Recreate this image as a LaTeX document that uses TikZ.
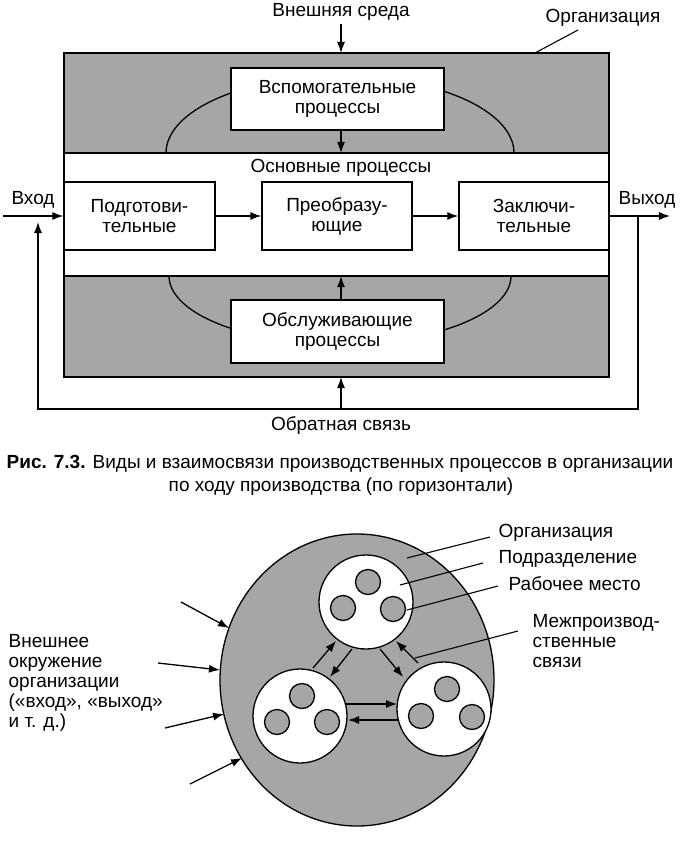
\documentclass[tikz,border=0pt]{standalone}
\usepackage{fontspec}
\setmainfont{Liberation Sans}
\usetikzlibrary{arrows.meta,shapes.geometric}
\begin{document}
\begin{tikzpicture}[x=1pt,y=-1pt,
  font=\fontsize{19}{20}\selectfont,
  line width=1.3pt,
  arr/.style={-{Latex[length=11pt,width=8pt]}},
  shade/.style={fill=black!35},
  box/.style={draw, fill=white, inner sep=0pt, align=center},
  lbl/.style={inner sep=0pt},
  lead/.style={line width=1.1pt},
  bigcirc/.style={circle, draw, fill=white, minimum size=94pt, inner sep=0pt},
  smallcirc/.style={circle, draw, shade, minimum size=25pt, inner sep=0pt},
]
\useasboundingbox (0,0) rectangle (695,842);
\fill[white] (0,0) rectangle (695,842);

% ---------- upper diagram ----------
\node[draw, shade, minimum width=545pt, minimum height=324pt, inner sep=0pt] (org) at (336.5,215) {};
\begin{scope}
  \clip (64,53) rectangle (609,377);
  \draw (340,153) ellipse [x radius=174, y radius=77];
  \draw (340,276) ellipse [x radius=171, y radius=68];
\end{scope}
\node[draw, fill=white, minimum width=545pt, minimum height=123pt, inner sep=0pt] (band) at (336.5,214.5) {};

\node[box, minimum width=213pt, minimum height=62pt] (vsp) at (337.5,99) {Вспомогательные\\процессы};
\node[box, minimum width=213pt, minimum height=63pt] (obs) at (337.5,331.5) {Обслуживающие\\процессы};

\node[lbl] (osn) at (341,168) {Основные процессы};
\node[box, minimum width=151pt, minimum height=68pt] (prep) at (139.5,216) {Подготови-\\тельные};
\node[box, minimum width=150pt, minimum height=68pt] (trans) at (337,216) {Преобразу-\\ющие};
\node[box, minimum width=150pt, minimum height=68pt] (fin) at (534,216) {Заключи-\\тельные};

\node[lbl] (env) at (341,12) {Внешняя среда};
\draw[arr] (341,24) -- (341,53);
\draw[arr] (vsp.south -| 341,0) -- (341,153);
\draw[arr] (obs.north -| 341,0) -- (341,276);
\draw[arr] (prep.east) -- (trans.west);
\draw[arr] (trans.east) -- (fin.west);

\node[lbl] (orgl) at (603,18) {Организация};
\coordinate (orgp) at (535,53);
\draw[lead] (orgp) -- (578,30);

\node[lbl] (vhod) at (33,200) {Вход};
\node[lbl] (vyhod) at (647,200) {Выход};
\coordinate (inS) at (3,216);
\draw[arr] (inS) -- (prep.west);
\coordinate (outE) at (670,216);
\draw[arr] (fin.east) -- (outE);

\coordinate (fb1) at (638,216);
\coordinate (fb2) at (638,409);
\coordinate (fb3) at (38,409);
\coordinate (fb4) at (38,222);
\draw[arr] (fb1) -- (fb2) -- (fb3) -- (fb4);
\coordinate (fbC) at (341,409);
\draw[arr] (fbC) -- (341,377);
\node[lbl] (obr) at (341,426) {Обратная связь};

\node[lbl] (cap1) at (340,464) {\textbf{Рис. 7.3.} Виды и взаимосвязи производственных процессов в организации};
\node[lbl] (cap2) at (341,487) {по ходу производства (по горизонтали)};

% ---------- lower diagram ----------
\node[ellipse, draw, shade, minimum width=274pt, minimum height=292pt, inner sep=0pt] (big) at (357,680) {};

\node[bigcirc] (cT) at (366,602) {};
\node[bigcirc] (cL) at (300,716) {};
\node[bigcirc] (cR) at (444,709) {};

\node[smallcirc] (t1) at (368,582) {};
\node[smallcirc] (t2) at (343,608) {};
\node[smallcirc] (t3) at (393,609) {};
\node[smallcirc] (l1) at (302,696) {};
\node[smallcirc] (l2) at (277,722) {};
\node[smallcirc] (l3) at (327,722) {};
\node[smallcirc] (r1) at (447,689) {};
\node[smallcirc] (r2) at (421,716) {};
\node[smallcirc] (r3) at (472,717) {};

\coordinate (a1) at (313,668); \coordinate (a2) at (336,641);
\coordinate (b1) at (352,649); \coordinate (b2) at (330,677);
\coordinate (c1) at (380,649); \coordinate (c2) at (403,677);
\coordinate (d1) at (418,663); \coordinate (d2) at (396,641);
\coordinate (e1) at (346,704); \coordinate (e2) at (397,704);
\coordinate (f1) at (398,720); \coordinate (f2) at (348,720);
\draw[arr] (a1) -- (a2);
\draw[arr] (b1) -- (b2);
\draw[arr] (c1) -- (c2);
\draw[arr] (d1) -- (d2);
\draw[arr] (e1) -- (e2);
\draw[arr] (f1) -- (f2);

% outside arrows
\coordinate (o1) at (181,602); \coordinate (p1) at (229,628);
\coordinate (o2) at (158,663); \coordinate (p2) at (220,670);
\coordinate (o3) at (165,728); \coordinate (p3) at (224,714);
\coordinate (o4) at (190,784); \coordinate (p4) at (242,758);
\draw[arr] (o1) -- (p1);
\draw[arr] (o2) -- (p2);
\draw[arr] (o3) -- (p3);
\draw[arr] (o4) -- (p4);

\node[lbl, anchor=north west, align=left] (env2) at (8,634) {Внешнее\\окружение\\организации\\(«вход», «выход»\\и т. д.)};

% right labels
\node[lbl, anchor=west] (lOrg) at (498,533) {Организация};
\node[lbl, anchor=west] (lPod) at (498,559) {Подразделение};
\node[lbl, anchor=west] (lRab) at (508,584) {Рабочее место};
\node[lbl, anchor=north west, align=left] (lMez) at (532,614) {Межпроизвод-\\ственные\\связи};
\draw[lead] (490,537) -- (407,558);
\draw[lead] (483,563) -- (400,585);
\draw[lead] (498,586) -- (407,610);
\draw[lead] (518,631) -- (415,658);
\end{tikzpicture}
\end{document}
